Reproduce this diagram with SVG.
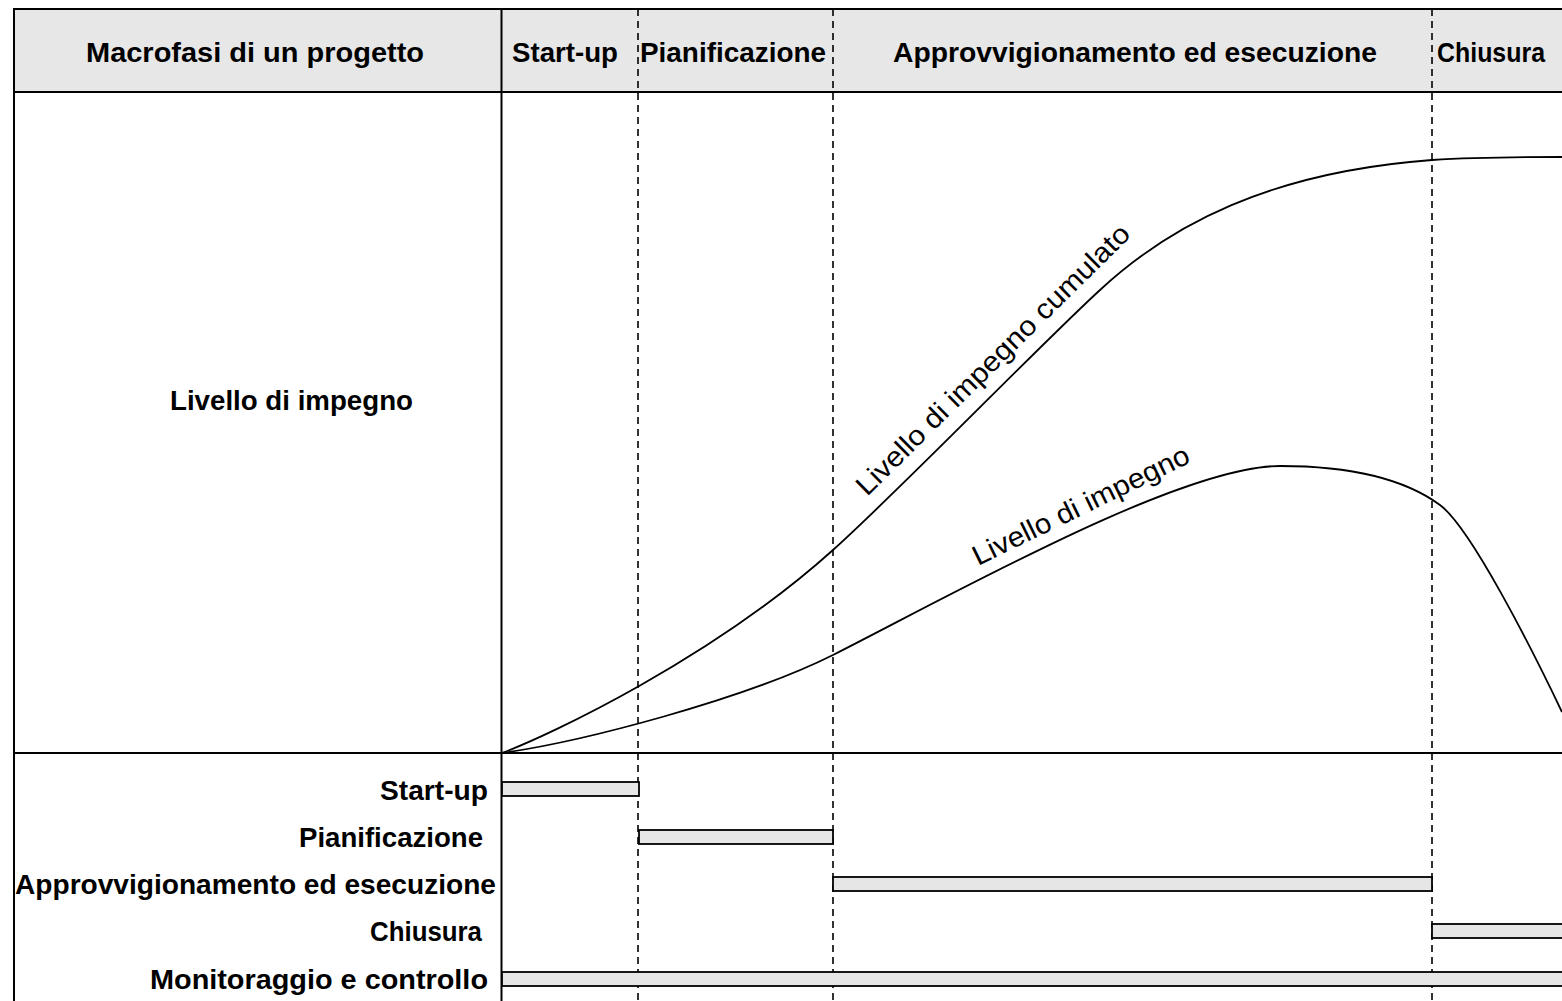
<svg xmlns="http://www.w3.org/2000/svg" width="1562" height="1001" viewBox="0 0 1562 1001">
  <style>
    .hdr { font-family: "Liberation Sans", Arial, sans-serif; font-weight: bold; font-size: 28px; fill: #000; }
    .lbl { font-family: "Liberation Sans", Arial, sans-serif; font-weight: bold; font-size: 28px; fill: #000; }
    .crv-lbl { font-family: "Liberation Sans", Arial, sans-serif; font-size: 28px; fill: #000; }
    .grid { stroke: #000; stroke-width: 2; fill: none; }
    .dash { stroke: #000; stroke-width: 1.6; stroke-dasharray: 7 5; fill: none; }
    .curve { stroke: #000; stroke-width: 1.8; fill: none; }
    .bar { fill: #e6e6e6; stroke: #000; stroke-width: 1.8; }
  </style>

  <rect x="0" y="0" width="1562" height="1001" fill="#ffffff"/>

  <!-- header band -->
  <rect x="14" y="9" width="1560" height="83" fill="#e7e7e7"/>

  <!-- phase boundaries -->
  <g id="phase-boundaries">
    <line class="dash" x1="638" y1="9" x2="638" y2="1001"/>
    <line class="dash" x1="833" y1="9" x2="833" y2="1001"/>
    <line class="dash" x1="1432" y1="9" x2="1432" y2="1001"/>
  </g>

  <!-- table frame -->
  <g id="frame">
    <line class="grid" x1="13" y1="9" x2="1562" y2="9"/>
    <line class="grid" x1="14" y1="9" x2="14" y2="1001"/>
    <line class="grid" x1="14" y1="92" x2="1562" y2="92"/>
    <line class="grid" x1="501.5" y1="9" x2="501.5" y2="1001"/>
    <line class="grid" x1="14" y1="753" x2="1562" y2="753" stroke-width="2.6"/>
  </g>

  <!-- header labels -->
  <g id="header">
    <text class="hdr" x="86" y="62" textLength="338" lengthAdjust="spacingAndGlyphs">Macrofasi di un progetto</text>
    <text class="hdr" x="512" y="62" textLength="106" lengthAdjust="spacingAndGlyphs">Start-up</text>
    <text class="hdr" x="640" y="62" textLength="186" lengthAdjust="spacingAndGlyphs">Pianificazione</text>
    <text class="hdr" x="893" y="62" textLength="484" lengthAdjust="spacingAndGlyphs">Approvvigionamento ed esecuzione</text>
    <text class="hdr" x="1437" y="62" textLength="108" lengthAdjust="spacingAndGlyphs">Chiusura</text>
  </g>

  <!-- effort chart -->
  <g id="effort-label">
    <text class="lbl" x="170" y="410" textLength="243" lengthAdjust="spacingAndGlyphs">Livello di impegno</text>
  </g>

  <g id="connectors">
    <path id="curve-cumulative" class="curve" d="M502,753 C550,735 713,658 833,550 C900,490 1040,345 1100,290 C1170,225 1270,172 1432,160 C1480,157 1530,157 1562,157"/>
    <path id="curve-effort" class="curve" d="M502,753 C580,742 743,700 833,655 C950,596 1180,466 1280,466 C1360,466 1410,483 1440,505 C1470,527 1530,645 1562,712"/>
  </g>

  <g id="curve-labels">
    <text class="crv-lbl" transform="translate(867,497) rotate(-44.6)" textLength="372" lengthAdjust="spacingAndGlyphs">Livello di impegno cumulato</text>
    <text class="crv-lbl" transform="translate(978,566) rotate(-26)" textLength="238" lengthAdjust="spacingAndGlyphs">Livello di impegno</text>
  </g>

  <!-- phase bars -->
  <g id="bar-startup">
    <rect class="bar" x="502" y="782" width="137" height="14"/>
    <text class="lbl" x="380" y="800" textLength="108" lengthAdjust="spacingAndGlyphs">Start-up</text>
  </g>
  <g id="bar-pianificazione">
    <rect class="bar" x="639" y="830" width="194" height="14"/>
    <text class="lbl" x="299" y="847" textLength="184" lengthAdjust="spacingAndGlyphs">Pianificazione</text>
  </g>
  <g id="bar-approvvigionamento">
    <rect class="bar" x="833" y="877" width="599" height="14"/>
    <text class="lbl" x="15" y="894" textLength="481" lengthAdjust="spacingAndGlyphs">Approvvigionamento ed esecuzione</text>
  </g>
  <g id="bar-chiusura">
    <rect class="bar" x="1432" y="924" width="140" height="14"/>
    <text class="lbl" x="370" y="941" textLength="112" lengthAdjust="spacingAndGlyphs">Chiusura</text>
  </g>
  <g id="bar-monitoraggio">
    <rect class="bar" x="502" y="972" width="1070" height="14"/>
    <text class="lbl" x="150" y="989" textLength="338" lengthAdjust="spacingAndGlyphs">Monitoraggio e controllo</text>
  </g>
</svg>
